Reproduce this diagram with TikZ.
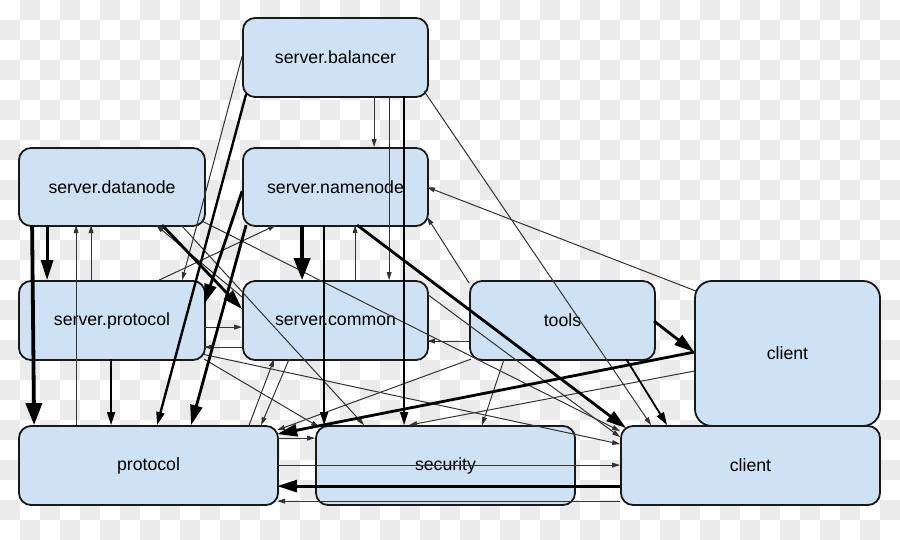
\documentclass[tikz,border=0pt]{standalone}
\usepackage{fontspec}
\setmainfont{Liberation Sans}
\usetikzlibrary{arrows.meta,calc}
\definecolor{boxfill}{HTML}{CFE2F3}
\definecolor{checker}{HTML}{EBEBEB}
\begin{document}
\begin{tikzpicture}[x=0.5pt,y=-0.5pt,
 box/.style={draw=black!90, line width=0.9pt, fill=boxfill, rounded corners=6pt, inner sep=0pt, font=\fontsize{8.85}{10}\selectfont},
 ethin/.style={draw=black!80, line width=0.5pt, -{Triangle[length=4pt,width=2.4pt]}},
 emid/.style={draw=black, line width=0.9pt, -{Triangle[length=6.5pt,width=4pt]}},
 ethick/.style={draw=black, line width=1.4pt, -{Triangle[length=10pt,width=6pt]}},
 evthick/.style={draw=black, line width=1.9pt, -{Triangle[length=11pt,width=8pt]}}]
\useasboundingbox (0,0) rectangle (900,540);
\fill[white] (0,0) rectangle (900,540);
\foreach \i in {0,...,44}{\foreach \j in {0,...,26}{\pgfmathtruncatemacro\k{\i+\j}\ifodd\k \fill[checker] (\i*20,\j*20) rectangle ++(20,20);\fi}}
% nodes
\node[box, minimum width=92.5pt, minimum height=39.5pt] (bal) at (335.5,57.5) {server.balancer};
\node[box, minimum width=93pt, minimum height=39pt] (dn) at (112,187) {server.datanode};
\node[box, minimum width=92.5pt, minimum height=39pt] (nn) at (335.5,187) {server.namenode};
\node[box, minimum width=93pt, minimum height=39.5pt] (sp) at (112,320.5) {server.protocol};
\node[box, minimum width=92.5pt, minimum height=39.5pt] (sc) at (335.5,320.5) {server.common};
\node[box, minimum width=92.5pt, minimum height=39.5pt] (tools) at (562.5,320.5) {tools};
\node[box, rounded corners=8.5pt, minimum width=92.5pt, minimum height=72.5pt] (cla) at (787.5,353.5) {client};
\node[box, minimum width=129.5pt, minimum height=39.5pt] (pr) at (148.5,465.5) {protocol};
\node[box, minimum width=129.5pt, minimum height=39.5pt] (sec) at (445.5,465.5) {security};
\node[box, minimum width=129.5pt, minimum height=39.5pt] (clb) at (750.5,465.5) {client};
% thin edges
\draw[ethin] ($(bal.north west)+(132,79)$) -- ($(nn.north west)+(132,0)$);
\draw[ethin] ($(bal.north west)+(147,79)$) -- ($(sc.north west)+(147,0)$);
\draw[ethin] ($(bal.north west)+(0,39)$) -- ($(sp.north west)+(164,0)$);
\draw[ethin] ($(bal.north west)+(182,74)$) -- ($(clb.north west)+(31,0)$);
\draw[ethin] ($(cla.north west)+(2,11)$) -- ($(nn.north west)+(185,40)$);
\draw[ethin] ($(tools.north west)+(0,3)$) -- ($(nn.north west)+(185,70)$);
\draw[ethin] ($(sp.north west)+(141,0)$) -- ($(nn.north west)+(34,78)$);
\draw[ethin] ($(sp.north west)+(73,0)$) -- ($(dn.north west)+(73,78)$);
\draw[ethin] ($(pr.north west)+(58,0)$) -- ($(dn.north west)+(58,78)$);
\draw[ethin] ($(sc.north west)+(0,17)$) -- ($(dn.north west)+(138,78)$);
\draw[ethin] ($(dn.north west)+(184,74)$) -- ($(clb.north west)+(0,6)$);
\draw[ethin] ($(dn.north west)+(163,78)$) -- ($(sec.north west)+(49,0)$);
\draw[ethin] ($(tools.north west)+(0,61)$) -- ($(sc.north west)+(185,61)$);
\draw[ethin] ($(tools.north west)+(35,79)$) -- ($(sec.north west)+(167,0)$);
\draw[ethin] ($(tools.north west)+(2,79)$) -- ($(pr.north west)+(259,5)$);
\draw[ethin] ($(cla.north west)+(0,91)$) -- ($(sec.north west)+(94,0)$);
\draw[ethin] ($(sp.north west)+(186,47)$) -- ($(sc.north west)+(0,47)$);
\draw[ethin] ($(sc.north west)+(0,67)$) -- ($(sp.north west)+(186,67)$);
\draw[ethin] ($(sp.north west)+(184,74)$) -- ($(clb.north west)+(0,19)$);
\draw[ethin] ($(sp.north west)+(186,79)$) -- ($(sec.north west)+(4,2)$);
\draw[ethin] ($(pr.north west)+(231,0)$) -- ($(sc.north west)+(32,79)$);
\draw[ethin] ($(sc.north west)+(47,79)$) -- ($(pr.north west)+(243,0)$);
\draw[ethin] ($(pr.north west)+(259,13)$) -- ($(sec.north west)+(0,13)$);
\draw[ethin] ($(pr.north west)+(259,40)$) -- ($(clb.north west)+(0,40)$);
\draw[ethin] ($(clb.north west)+(0,76)$) -- ($(pr.north west)+(259,76)$);
\draw[ethin] ($(sc.north west)+(185,14)$) -- ($(clb.north west)+(0,12)$);
\draw[ethin] ($(sc.north west)+(113,0)$) -- ($(nn.north west)+(113,78)$);
% medium edges
\draw[emid] ($(sp.north west)+(93,79)$) -- ($(pr.north west)+(93,0)$);
\draw[emid] ($(bal.north west)+(162,79)$) -- ($(sec.north west)+(89,0)$);
\draw[emid] ($(nn.north west)+(82,78)$) -- ($(sec.north west)+(9,0)$);
\draw[emid] ($(tools.north west)+(157,79)$) -- ($(clb.north west)+(47,0)$);
\draw[emid, line width=1.2pt] ($(bal.north west)+(4,77)$) -- ($(pr.north west)+(139,0)$);
% thick edges
\draw[evthick] ($(dn.north west)+(14,78)$) -- ($(pr.north west)+(16,0)$);
\draw[ethick] ($(dn.north west)+(29,78)$) -- ($(sp.north west)+(29,0)$);
\draw[evthick] ($(nn.north west)+(60,78)$) -- ($(sc.north west)+(60,0)$);
\draw[ethick] ($(dn.north west)+(144,78)$) -- ($(sc.north west)+(0,29)$);
\draw[ethick] ($(nn.north west)+(0,44)$) -- ($(sp.north west)+(186,24)$);
\draw[ethick] ($(nn.north west)+(4,78)$) -- ($(pr.north west)+(173,0)$);
\draw[ethick] ($(nn.north west)+(115,78)$) -- ($(clb.north west)+(6,3)$);
\draw[ethick] ($(tools.north west)+(185,41)$) -- ($(cla.north west)+(0,72)$);
\draw[ethick] ($(cla.north west)+(0,72)$) -- ($(pr.north west)+(259,9)$);
\draw[ethick] ($(clb.north west)+(0,61)$) -- ($(pr.north west)+(259,61)$);
\end{tikzpicture}
\end{document}
